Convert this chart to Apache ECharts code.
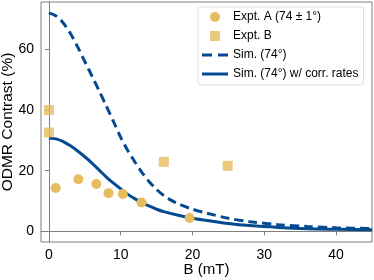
<!DOCTYPE html>
<html><head><meta charset="utf-8">
<script src="https://cdn.jsdelivr.net/npm/echarts@6/dist/echarts.min.js"></script>
<style>html,body{margin:0;padding:0;background:#fff}#c{width:374px;height:280px}</style>
</head><body><div id="c"></div>
<script>
var exptA_x = [0.95, 4.1, 6.6, 8.3, 10.3, 12.9, 19.6];
var exptA_y = [14.3, 17.2, 15.6, 12.6, 12.3, 9.5, 4.4];
var exptB_x = [0, 0, 16.0, 24.9];
var exptB_y = [40.0, 32.6, 22.9, 21.6];
var sim_x = [0, 1, 2, 3, 4, 5, 6, 7, 8, 9, 10, 11, 12, 13, 14, 15, 16, 17, 18, 20, 22, 25, 28, 32, 36, 40, 45];
var sim_y = [72, 71, 68.7, 65.2, 60.8, 56, 51.2, 46.3, 41.3, 36.2, 31.0, 26.6, 22.8, 19.3, 16.3, 13.8, 11.8, 10.3, 9.1, 7.3, 6.0, 4.3, 3.2, 2.2, 1.6, 1.2, 0.9];
var corr_x = [0, 1, 2, 3, 4, 5, 6, 7, 8, 9, 10, 11, 12, 13, 14, 15, 16, 18, 20, 22, 25, 28, 32, 36, 40, 45];
var corr_y = [30.8, 30.5, 29.6, 28.2, 26.5, 24.6, 22.5, 20.2, 17.9, 15.9, 14.0, 12.2, 10.7, 9.4, 8.3, 7.3, 6.5, 5.3, 4.3, 3.6, 2.6, 1.9, 1.3, 0.9, 0.7, 0.5];
var xTicks = [0, 10, 20, 30, 40];
var yTicks = [0, 20, 40, 60];
var names = ['Expt. A (74 \u00b1 1\u00b0)', 'Expt. B', 'Sim. (74\u00b0)', 'Sim. (74\u00b0) w/ corr. rates'];

function pairs(xs, ys){ return xs.map(function(x,i){ return [x, ys[i]]; }); }
var gold = '#E6BC5E', blue = '#044A91';
var font = '"Liberation Sans", Arial, sans-serif';
var chart = echarts.init(document.getElementById('c'));
chart.setOption({
  animation: false,
  grid: { left: 41, right: 2, top: 2, bottom: 38, show: true, borderColor: '#7f7f7f', borderWidth: 1, outerBoundsMode: 'none', containLabel: false },
  xAxis: {
    type: 'value', min: -1.1, max: 45,
    name: 'B (mT)', nameLocation: 'middle', nameGap: 20, nameMoveOverlap: false,
    nameTextStyle: { fontSize: 15, color: '#000', fontFamily: font },
    axisLine: { show: true, lineStyle: { color: '#7f7f7f', width: 1 } },
    axisTick: { show: true, customValues: xTicks, length: 4, lineStyle: { color: '#7f7f7f' } },
    axisLabel: { customValues: xTicks, fontSize: 14, color: '#000', fontFamily: font, margin: 6 },
    splitLine: { show: false }
  },
  yAxis: {
    type: 'value', min: -3.5, max: 75.6,
    name: 'ODMR Contrast (%)', nameLocation: 'middle', nameGap: 25, nameMoveOverlap: false,
    nameTextStyle: { fontSize: 15.5, color: '#000', fontFamily: font },
    axisLine: { show: true, lineStyle: { color: '#7f7f7f', width: 1 } },
    axisTick: { show: true, customValues: yTicks, length: 4, lineStyle: { color: '#7f7f7f' } },
    axisLabel: { customValues: yTicks, fontSize: 14, color: '#000', fontFamily: font, margin: 7 },
    splitLine: { show: false }
  },
  legend: {
    left: 198, top: 7, orient: 'vertical',
    padding: [4, 5, 5, 4], itemGap: 7, itemWidth: 26, itemHeight: 10,
    borderColor: '#dddddd', borderWidth: 1, borderRadius: 3, backgroundColor: '#fff',
    textStyle: { fontSize: 12, color: '#000', fontFamily: font },
    data: [
      { name: names[0], icon: 'circle' },
      { name: names[1], icon: 'path://M0,0h10v10h-10z' },
      { name: names[2], icon: 'path://M0,0h10v3h-10zM16,0h10v3h-10z', itemStyle: { color: blue } },
      { name: names[3], icon: 'path://M0,0h26v3h-26z', itemStyle: { color: blue } }
    ]
  },
  series: [
    { name: names[0], type: 'scatter', symbol: 'circle', symbolSize: 10, itemStyle: { color: gold, opacity: 1 }, data: pairs(exptA_x, exptA_y), z: 3 },
    { name: names[1], type: 'scatter', symbol: 'rect', symbolSize: 10, itemStyle: { color: gold }, data: pairs(exptB_x, exptB_y), z: 3 },
    { name: names[2], type: 'line', smooth: 0.3, symbol: 'none', lineStyle: { color: blue, width: 3, type: [9, 5] }, itemStyle: { color: blue }, data: pairs(sim_x, sim_y), z: 2 },
    { name: names[3], type: 'line', smooth: 0.3, symbol: 'none', lineStyle: { color: blue, width: 3 }, itemStyle: { color: blue }, data: pairs(corr_x, corr_y), z: 2 }
  ]
});
</script></body></html>
